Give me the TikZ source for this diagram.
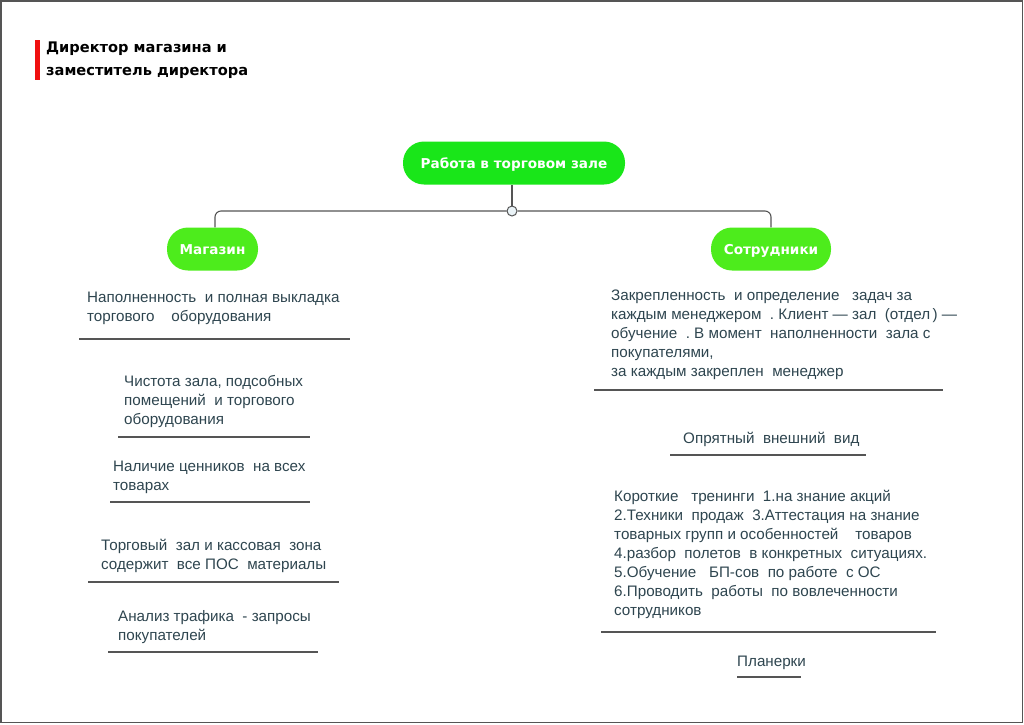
\documentclass[tikz,border=0pt]{standalone}
\usepackage{fontspec}
\setmainfont{Liberation Sans}
\newfontfamily\headfont{DejaVu Sans}
\usetikzlibrary{positioning}
\definecolor{txt}{HTML}{2E454F}
\definecolor{rootgreen}{HTML}{19E619}
\definecolor{childgreen}{HTML}{4DEC1C}
\definecolor{lineg}{HTML}{555555}
\definecolor{hubfill}{HTML}{EAF3F7}
\definecolor{redbar}{HTML}{F01010}
\begin{document}
\begin{tikzpicture}[x=1pt,y=-1pt,
  pill/.style={rounded corners=21pt, minimum height=43pt, text=white, font=\headfont\fontsize{13.6}{16}\selectfont\bfseries, inner xsep=12pt, text depth=0pt, text height=10pt},
  rootpill/.style={pill, fill=rootgreen},
  childpill/.style={pill, fill=childgreen},
  item/.style={anchor=north west, inner sep=0pt, align=left, text=txt, font=\fontsize{15.2}{19}\selectfont},
  uline/.style={draw=lineg, line width=1.1pt},
  conn/.style={draw=lineg, line width=1.1pt},
  hubst/.style={circle, draw=lineg, fill=hubfill, line width=1pt, minimum size=10pt, inner sep=0pt}]
\useasboundingbox (0,0) rectangle (1024,724);
\draw[lineg, line width=1.3pt] (1,1) rectangle (1022.5,722.5);
% title
\fill[redbar] (35,40) rectangle (40,80);
\node[anchor=north west, inner sep=0pt, align=left, font=\headfont\fontsize{14.6}{23}\selectfont\bfseries] (title) at (46,42) {Директор магазина и\\заместитель директора};
% nodes
\node[rootpill, minimum width=222pt] (root) at (514,163) {Работа в торговом зале};
\node[hubst] (hub) at (512,211) {};
\node[childpill, minimum width=91pt] (mag) at (212.5,249) {Магазин};
\node[childpill, minimum width=120pt] (sotr) at (771,249) {Сотрудники};
\draw[conn] (hub.north) -- (hub.north |- root.south);
\draw[conn, rounded corners=6pt] (hub.west) -| (mag.north -| 215,0);
\draw[conn, rounded corners=6pt] (hub.east) -| (sotr.north);
% left items
\node[item] (l1) at (87,292) {Наполненность\ \ и полная\ выкладка\\торгового\ \ \ \ оборудования};
\draw[uline] (79,339) -- (350,339);
\node[item] (l2) at (124,375) {Чистота зала, подсобных\\помещений\ \ и торгового\\оборудования};
\draw[uline] (118,437) -- (310,437);
\node[item] (l3) at (113,461) {Наличие\ ценников\ \ на всех\\товарах};
\draw[uline] (110,502) -- (310,502);
\node[item] (l4) at (101,539) {Торговый\ \ зал и кассовая\ \ зона\\содержит\ \ все\ ПОС\ \ материалы};
\draw[uline] (88,582) -- (339,582);
\node[item] (l5) at (118,610) {Анализ трафика\ \ -\ запросы\\покупателей};
\draw[uline] (108,652) -- (318,652);
% right items
\node[item] (r1) at (611,290) {Закрепленность\ \ и определение\ \ \ задач за\\каждым менеджером\ \ .\ Клиент --- зал\ \ (отдел\,) ---\\обучение\ \ .\ В момент\ \ наполненности\ \ зала с\\покупателями,\\за каждым закреплен\ \ менеджер};
\draw[uline] (594,390) -- (943,390);
\node[item] (r2) at (683,432) {Опрятный\ \ внешний\ \ вид};
\draw[uline] (670,455) -- (866,455);
\node[item] (r3) at (614,490) {Короткие\ \ \ тренинги\ \ 1.на знание акций\\2.Техники\ \ продаж\ \ 3.Аттестация на знание\\товарных групп и особенностей\ \ \ \ товаров\\4.разбор\ \ полетов\ \ в конкретных\ \ ситуациях.\\5.Обучение\ \ \ БП-сов\ \ по работе\ \ с ОС\\6.Проводить\ \ работы\ \ по вовлеченности\\сотрудников};
\draw[uline] (601,632) -- (936,632);
\node[item] (r4) at (737,656) {Планерки};
\draw[uline] (737,677) -- (801,677);
\end{tikzpicture}
\end{document}
